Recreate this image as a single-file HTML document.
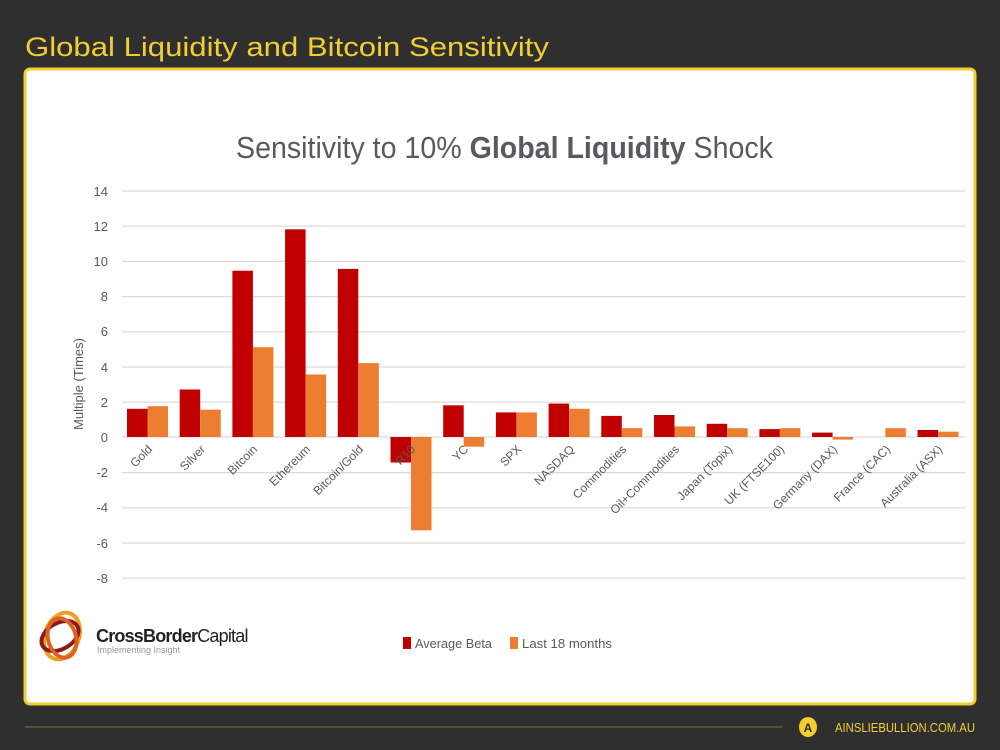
<!DOCTYPE html>
<html><head><meta charset="utf-8"><style>
html,body{margin:0;padding:0;background:#2f2f2f;width:1000px;height:750px;overflow:hidden}
svg{display:block}
</style></head><body>
<svg width="1000" height="750" xmlns="http://www.w3.org/2000/svg" font-family="Liberation Sans, sans-serif">
<rect width="1000" height="750" fill="#2f2f2f"/>
<text x="25" y="56" fill="#f2cf2e" font-size="27" textLength="524" lengthAdjust="spacingAndGlyphs">Global Liquidity and Bitcoin Sensitivity</text>
<rect x="25" y="69" width="950" height="635" rx="5" fill="#fff" stroke="#f2cf2e" stroke-width="3"/>
<text x="236" y="158" fill="#5a5a5e" font-size="31" textLength="537" lengthAdjust="spacingAndGlyphs">Sensitivity to 10% <tspan font-weight="bold">Global Liquidity</tspan> Shock</text>
<g stroke="#d9d9d9" stroke-width="1.2">
<line x1="122" x2="965" y1="191" y2="191"/><line x1="122" x2="965" y1="226.2" y2="226.2"/><line x1="122" x2="965" y1="261.4" y2="261.4"/><line x1="122" x2="965" y1="296.6" y2="296.6"/><line x1="122" x2="965" y1="331.8" y2="331.8"/><line x1="122" x2="965" y1="367" y2="367"/><line x1="122" x2="965" y1="402.2" y2="402.2"/><line x1="122" x2="965" y1="437" y2="437"/><line x1="122" x2="965" y1="472.6" y2="472.6"/><line x1="122" x2="965" y1="507.8" y2="507.8"/><line x1="122" x2="965" y1="543" y2="543"/><line x1="122" x2="965" y1="578.2" y2="578.2"/>
</g>
<g fill="#595959" font-size="13" text-anchor="end">
<text x="108" y="196">14</text><text x="108" y="231">12</text><text x="108" y="266">10</text><text x="108" y="301">8</text><text x="108" y="336">6</text><text x="108" y="372">4</text><text x="108" y="407">2</text><text x="108" y="442">0</text><text x="108" y="477">-2</text><text x="108" y="512">-4</text><text x="108" y="548">-6</text><text x="108" y="583">-8</text>
</g>
<text transform="translate(83,384) rotate(-90)" fill="#595959" font-size="13" text-anchor="middle">Multiple (Times)</text>
<g fill="#c00000">
<rect x="127" y="408.8" width="20.5" height="28.2"/>
<rect x="179.7" y="389.5" width="20.5" height="47.5"/>
<rect x="232.4" y="270.7" width="20.5" height="166.3"/>
<rect x="285.1" y="229.3" width="20.5" height="207.7"/>
<rect x="337.8" y="268.9" width="20.5" height="168.1"/>
<rect x="390.5" y="437" width="20.5" height="25.5"/>
<rect x="443.2" y="405.3" width="20.5" height="31.7"/>
<rect x="495.9" y="412.4" width="20.5" height="24.6"/>
<rect x="548.6" y="403.6" width="20.5" height="33.4"/>
<rect x="601.3" y="415.9" width="20.5" height="21.1"/>
<rect x="654" y="415" width="20.5" height="22"/>
<rect x="706.7" y="423.8" width="20.5" height="13.2"/>
<rect x="759.4" y="429.1" width="20.5" height="7.9"/>
<rect x="812.1" y="432.6" width="20.5" height="4.4"/>
<rect x="917.5" y="430" width="20.5" height="7"/>
</g>
<g fill="#ed7d31">
<rect x="147.5" y="406.2" width="20.5" height="30.8"/>
<rect x="200.2" y="409.7" width="20.5" height="27.3"/>
<rect x="252.9" y="347.2" width="20.5" height="89.8"/>
<rect x="305.6" y="374.5" width="20.5" height="62.5"/>
<rect x="358.3" y="363.1" width="20.5" height="73.9"/>
<rect x="411" y="437" width="20.5" height="93.3"/>
<rect x="463.7" y="437" width="20.5" height="9.7"/>
<rect x="516.4" y="412.4" width="20.5" height="24.6"/>
<rect x="569.1" y="408.8" width="20.5" height="28.2"/>
<rect x="621.8" y="428.2" width="20.5" height="8.8"/>
<rect x="674.5" y="426.4" width="20.5" height="10.6"/>
<rect x="727.2" y="428.2" width="20.5" height="8.8"/>
<rect x="779.9" y="428.2" width="20.5" height="8.8"/>
<rect x="832.6" y="437" width="20.5" height="2.6"/>
<rect x="885.3" y="428.2" width="20.5" height="8.8"/>
<rect x="938" y="431.7" width="20.5" height="5.3"/>
</g>
<g fill="#595959" font-size="12" text-anchor="end">
<text transform="translate(153,450) rotate(-45)">Gold</text>
<text transform="translate(206,450) rotate(-45)">Silver</text>
<text transform="translate(258,450) rotate(-45)">Bitcoin</text>
<text transform="translate(311,450) rotate(-45)">Ethereum</text>
<text transform="translate(364,450) rotate(-45)">Bitcoin/Gold</text>
<text transform="translate(416,450) rotate(-45)">R10</text>
<text transform="translate(469,450) rotate(-45)">YC</text>
<text transform="translate(522,450) rotate(-45)">SPX</text>
<text transform="translate(575,450) rotate(-45)">NASDAQ</text>
<text transform="translate(627,450) rotate(-45)">Commodities</text>
<text transform="translate(680,450) rotate(-45)">Oil+Commodities</text>
<text transform="translate(733,450) rotate(-45)">Japan (Topix)</text>
<text transform="translate(785,450) rotate(-45)">UK (FTSE100)</text>
<text transform="translate(838,450) rotate(-45)">Germany (DAX)</text>
<text transform="translate(891,450) rotate(-45)">France (CAC)</text>
<text transform="translate(943,450) rotate(-45)">Australia (ASX)</text>
</g>
<g fill="none" stroke-width="4">
<ellipse cx="62" cy="636" rx="17" ry="24" stroke="#f0a020" transform="rotate(20 62 636)"/>
<ellipse cx="60" cy="636" rx="20" ry="13" stroke="#8b1a1a" transform="rotate(-30 60 636)"/>
<ellipse cx="62" cy="638" rx="14" ry="20" stroke="#e06020" transform="rotate(-15 62 638)"/>
</g>
<text x="96" y="642" font-size="18" fill="#222" letter-spacing="-0.8"><tspan font-weight="bold">CrossBorder</tspan>Capital</text>
<text x="97" y="653" font-size="9" fill="#999">Implementing Insight</text>
<rect x="403" y="637" width="8" height="12" fill="#c00000"/>
<text x="415" y="648" font-size="13" fill="#595959" textLength="77" lengthAdjust="spacingAndGlyphs">Average Beta</text>
<rect x="510" y="637" width="8" height="12" fill="#ed7d31"/>
<text x="522" y="648" font-size="13" fill="#595959" textLength="90" lengthAdjust="spacingAndGlyphs">Last 18 months</text>
<line x1="25" y1="727" x2="782" y2="727" stroke="#6b6633" stroke-width="1.2"/>
<ellipse cx="808" cy="727" rx="9" ry="10" fill="#f2cf2e"/>
<text x="808" y="732" font-size="12" font-weight="bold" text-anchor="middle" fill="#2f2f2f">A</text>
<text x="835" y="732" font-size="13" fill="#f2cf2e" textLength="140" lengthAdjust="spacingAndGlyphs">AINSLIEBULLION.COM.AU</text>
</svg>
</body></html>
